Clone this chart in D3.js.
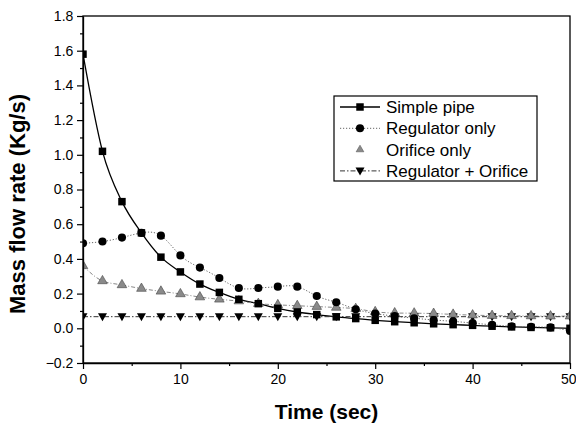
<!DOCTYPE html>
<html><head><meta charset="utf-8">
<script src="https://cdn.jsdelivr.net/npm/d3@7"></script>
<style>body{margin:0;background:#fff}svg{display:block}</style>
</head><body>
<svg id="c" width="576" height="426"></svg>
<script>
const times = [0,2,4,6,8,10,12,14,16,18,20,22,24,26,28,30,32,34,36,38,40,42,44,46,48,50];
const simplePipe = [1.58,1.02,0.73,0.55,0.41,0.325,0.255,0.207,0.167,0.142,0.115,0.094,0.079,0.066,0.056,0.046,0.038,0.032,0.026,0.021,0.017,0.012,0.008,0.005,0.003,0.0];
const regulatorOnly = [0.49,0.50,0.523,0.55,0.534,0.42,0.35,0.29,0.232,0.232,0.24,0.24,0.186,0.15,0.11,0.085,0.07,0.058,0.048,0.04,0.03,0.02,0.012,0.008,0.005,-0.015];
const orificeOnly = [0.36,0.273,0.25,0.229,0.213,0.198,0.18,0.167,0.157,0.142,0.135,0.13,0.125,0.12,0.113,0.095,0.088,0.087,0.085,0.08,0.076,0.073,0.072,0.071,0.07,0.07];
const regOrifice = [0.067,0.067,0.067,0.067,0.067,0.067,0.067,0.067,0.067,0.067,0.067,0.067,0.067,0.067,0.067,0.067,0.067,0.067,0.067,0.067,0.067,0.067,0.067,0.067,0.067,0.067];
const seriesNames = ["Simple pipe","Regulator only","Orifice only","Regulator + Orifice"];
const xTicks = [0,10,20,30,40,50];
const yTicks = [-0.2,0.0,0.2,0.4,0.6,0.8,1.0,1.2,1.4,1.6,1.8];
const xLabel = "Time (sec)";
const yLabel = "Mass flow rate (Kg/s)";

const svg = d3.select("#c");
const L=83,R=570,T=16,B=363;
const x = d3.scaleLinear().domain([0,50]).range([L,R]);
const y = d3.scaleLinear().domain([-0.2,1.8]).range([B,T]);
const font = "Liberation Sans, Arial, sans-serif";

svg.append("defs").append("clipPath").attr("id","clip")
  .append("rect").attr("x",L).attr("y",T).attr("width",R-L).attr("height",B-T);

const series = [
  {name:seriesNames[0], vals:simplePipe, sym:"square", stroke:"#000", dash:null, w:1.3, fill:"#000", curve:d3.curveMonotoneX},
  {name:seriesNames[1], vals:regulatorOnly, sym:"circle", stroke:"#666", dash:"1.2,1.8", w:1, fill:"#000", curve:d3.curveNatural},
  {name:seriesNames[2], vals:orificeOnly, sym:"triUp", stroke:"#888", dash:"4,2,1,2", w:1, fill:"#8a8a8a", curve:d3.curveMonotoneX},
  {name:seriesNames[3], vals:regOrifice, sym:"triDown", stroke:"#333", dash:"5,2,1.5,2", w:1, fill:"#000", curve:d3.curveLinear}
];

function symPath(sym){
  if(sym==="square") return d3.symbol(d3.symbolSquare,56)();
  if(sym==="circle") return d3.symbol(d3.symbolCircle,52)();
  if(sym==="triUp") return d3.symbol(d3.symbolTriangle,40)();
  return "M-4.5,-3.5L4.5,-3.5L0,4.5Z";
}

const plot = svg.append("g").attr("clip-path","url(#clip)");
series.forEach(s=>{
  const pts = times.map((t,i)=>[t,s.vals[i]]);
  plot.append("path").datum(pts)
    .attr("d", d3.line().x(d=>x(d[0])).y(d=>y(d[1])).curve(s.curve))
    .attr("fill","none").attr("stroke",s.stroke).attr("stroke-width",s.w)
    .attr("stroke-dasharray",s.dash);
});
series.slice().reverse().forEach(s=>{
  plot.selectAll(null).data(times.map((t,i)=>[t,s.vals[i]])).enter().append("path")
    .attr("d",symPath(s.sym))
    .attr("transform",d=>`translate(${x(d[0])},${y(d[1])})`)
    .attr("fill",s.fill).attr("stroke",s.sym==="triUp"?"#444":"none").attr("stroke-width",0.6);
});

// frame
svg.append("rect").attr("x",L).attr("y",T).attr("width",R-L).attr("height",B-T)
  .attr("fill","none").attr("stroke","#000").attr("stroke-width",1.3);

// axes
const xAxis = svg.append("g").attr("transform",`translate(0,${B})`)
  .call(d3.axisBottom(x).tickValues(xTicks).tickFormat(d3.format("d")).tickSize(6).tickSizeOuter(0));
svg.append("g").attr("transform",`translate(0,${B})`)
  .call(d3.axisBottom(x).tickValues([5,15,25,35,45]).tickFormat("").tickSize(3).tickSizeOuter(0))
  .call(g=>g.select(".domain").remove());
const yAxis = svg.append("g").attr("transform",`translate(${L},0)`)
  .call(d3.axisLeft(y).tickValues(yTicks).tickFormat(d3.format(".1f")).tickSize(6).tickSizeOuter(0));
svg.append("g").attr("transform",`translate(${L},0)`)
  .call(d3.axisLeft(y).tickValues(d3.range(-0.1,1.8,0.2)).tickFormat("").tickSize(3).tickSizeOuter(0))
  .call(g=>g.select(".domain").remove());
svg.selectAll(".tick line").attr("stroke-width",1.2);
svg.selectAll(".domain").attr("stroke-width",1.3);
xAxis.selectAll("text").attr("font-family",font).attr("font-size",14).attr("fill","#000").attr("dy","0.85em");
// keep the last label inside the page edge
xAxis.selectAll(".tick").filter(d=>d===50).select("text").attr("text-anchor","end").attr("x",6);
yAxis.selectAll("text").attr("font-family",font).attr("font-size",14).attr("fill","#000").attr("dx","-0.05em");

svg.append("text").attr("x",(L+R)/2).attr("y",419).attr("text-anchor","middle")
  .attr("font-family",font).attr("font-weight","bold").attr("font-size",21).text(xLabel);
svg.append("text").attr("transform",`translate(25,204) rotate(-90)`).attr("text-anchor","middle")
  .attr("font-family",font).attr("font-weight","bold").attr("font-size",22).text(yLabel);

// legend
const lg = svg.append("g");
lg.append("rect").attr("x",334).attr("y",96).attr("width",203).attr("height",85)
  .attr("fill","#fff").attr("stroke","#000").attr("stroke-width",1.2);
series.forEach((s,i)=>{
  const yy = 107 + i*21.3;
  if(i!==2) lg.append("line").attr("x1",340).attr("x2",380).attr("y1",yy).attr("y2",yy)
    .attr("stroke",s.stroke).attr("stroke-width",s.w).attr("stroke-dasharray",s.dash);
  lg.append("path").attr("d",symPath(s.sym)).attr("transform",`translate(360,${yy}) scale(${s.sym==="triUp"?0.8:1})`)
    .attr("fill",s.fill).attr("stroke",s.sym==="triUp"?"#444":"none").attr("stroke-width",0.6);
  lg.append("text").attr("x",386).attr("y",yy).attr("dy","0.35em")
    .attr("font-family",font).attr("font-size",17).text(s.name);
});
</script>
</body></html>
